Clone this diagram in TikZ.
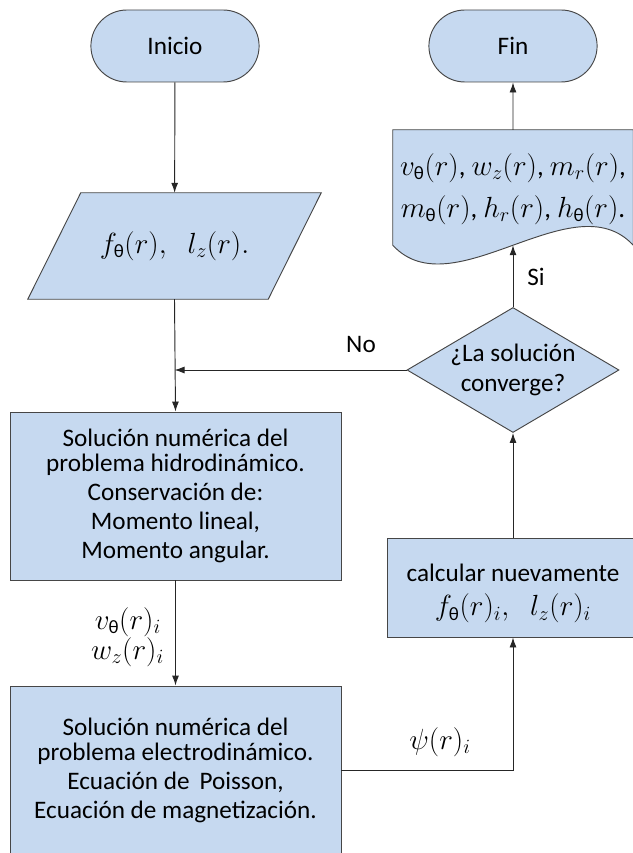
\documentclass[tikz,border=0pt]{standalone}
\usepackage{amsmath}
\usepackage{fontspec}
\setmainfont{Carlito}
\usetikzlibrary{shapes.geometric,shapes.misc,arrows.meta,calc,backgrounds}
\definecolor{azulclaro}{RGB}{198,217,240}
\definecolor{borde}{RGB}{70,70,70}
\newcommand{\sth}{\text{θ}}

\begin{document}
\begin{tikzpicture}[x=0.03cm, y=-0.03cm,
    bloque/.style={draw=borde, line width=0.8pt, fill=azulclaro, align=center,
      font=\fontsize{21.5}{21.3}\selectfont},
    terminal/.style={bloque, rounded rectangle, minimum width=5.28cm, minimum height=2.16cm},
    proceso/.style={bloque, rectangle, minimum width=9.93cm, minimum height=5.04cm},
    flecha/.style={draw=black!85, line width=0.8pt, -{Latex[length=3mm,width=2.1mm]}},
    etiqueta/.style={font=\fontsize{21.5}{21.3}\selectfont},
    formula/.style={font=\fontsize{23}{23}\selectfont}]
    \useasboundingbox (0,0) rectangle (632,853);

    \node[terminal] (inicio) at (175,46) {Inicio};
    \node[terminal] (fin) at (513,46) {Fin};
    \node[formula, minimum width=8.79cm, minimum height=3.18cm, inner sep=0pt] (datos) at (174.5,246)
      {$f_{\sth}(r),\;\; l_z(r).$};
    \node[proceso] (hidro) at (175.5,496) {Solución numérica del\\ problema hidrodinámico.\\[3.4pt]
      Conservación de:\\[3.4pt] Momento lineal,\\[3.4pt] Momento angular.};
    \node[proceso] (electro) at (175.5,770) {Solución numérica del\\ problema electrodinámico.\\[3.4pt]
      Ecuación de\, Poisson,\\[3.4pt] Ecuación de magnetización.};
    \node[bloque, diamond, inner sep=0pt, minimum width=6.36cm, minimum height=3.75cm,
      label={[etiqueta, align=center, font=\fontsize{21.5}{25.5}\selectfont]center:¿La solución\\ converge?}]
      (conv) at (513,370) {};
    \node[bloque, rectangle, minimum width=7.56cm, minimum height=2.97cm] (calc) at (513,587.5)
      {\rule{0pt}{25pt}calcular nuevamente\\[8pt] {\fontsize{23}{23}\selectfont $f_{\sth}(r)_i,\;\; l_z(r)_i$}};
    \node[minimum width=7.2cm, minimum height=3.45cm, inner sep=0pt,
      label={[formula, align=center, yshift=-0.05cm]center:$v_{\sth}(r)$, $w_z(r)$, $m_r(r)$,\\[10pt]
        $m_{\sth}(r)$, $h_r(r)$, $h_{\sth}(r)$.}] (res) at (513,187.5) {};
    \begin{scope}[on background layer]
        \draw[bloque] (datos.south west) -- ($(datos.north west)+(53,0)$) -- (datos.north east)
          -- ($(datos.south east)+(-53,0)$) -- cycle;
        \draw[bloque] (res.south west) -- (res.north west) -- (res.north east) -- (res.south east)
          .. controls ($(res.south east)+(-60,-65)$) and ($(res.south west)+(60,65)$) .. (res.south west) -- cycle;
    \end{scope}

    % etiquetas
    \node[etiqueta] (no) at (361,345) {No};
    \node[etiqueta] (si) at (536,277) {Si};
    \node[formula, anchor=east] (vel) at (165,622) {$v_{\sth}(r)_i$};
    \node[formula, anchor=east] (wz) at (168,652) {$w_z(r)_i$};
    \node[formula] (psi) at (440,742) {$\psi(r)_i$};

    \coordinate (union) at (datos.south |- conv.west);
    \draw[flecha] (inicio) -- (datos);
    \draw[flecha] (datos.south) -- (hidro.north);
    \draw[flecha] (conv.west) -- (union);
    \draw[flecha] (hidro) -- (electro);
    \draw[flecha] (electro.east) -| (calc.south);
    \draw[flecha] (calc) -- (conv);
    \draw[flecha] (conv) -- (res.south);
    \draw[flecha] (res.north) -- (fin);
\end{tikzpicture}
\end{document}
